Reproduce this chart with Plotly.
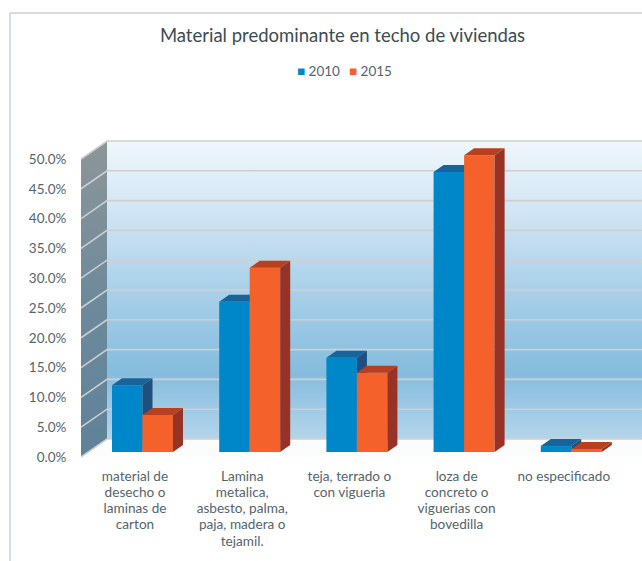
import plotly.graph_objects as go

categories = ["material de<br>desecho o<br>laminas de<br>carton",
              "Lamina<br>metalica,<br>asbesto, palma,<br>paja, madera o<br>tejamil.",
              "teja, terrado o<br>con vigueria",
              "loza de<br>concreto o<br>viguerias con<br>bovedilla",
              "no especificado"]
values_2010 = [11.2, 25.2, 15.8, 47.0, 1.0]
values_2015 = [6.2, 30.9, 13.3, 49.8, 0.5]
y_ticks = [0, 5, 10, 15, 20, 25, 30, 35, 40, 45, 50]
y_tick_labels = ["0.0%", "5.0%", "10.0%", "15.0%", "20.0%", "25.0%", "30.0%", "35.0%", "40.0%", "45.0%", "50.0%"]

W, H = 642, 561
L, T, B = 81, 130, 467
PX_CAT, PX_PCT = 107.2, 5.96
FONT = "Lato, Carlito, sans-serif"
TXT = "#55646c"
C2010, C2015 = "#0087c9", "#f5612a"

# oblique projection, px converted to data units
wall_dx, wall_dy = 26 / PX_CAT, 18 / PX_PCT
bar_dx, bar_dy = 10 / PX_CAT, 7 / PX_PCT
bar_w = 30.5 / PX_CAT


def xr(origin):
    return [(L - origin) / PX_CAT, (W - origin) / PX_CAT]


def yr(origin):
    return [(origin - B) / PX_PCT, (origin - T) / PX_PCT]


x_range, y_range = xr(135), yr(457)
x_left, x_right = x_range
top = max(y_ticks)

fig = go.Figure()


def poly(xs, ys, color=None, grad=None, ax=("x", "y")):
    kw = dict(fillgradient=grad) if grad else dict(fillcolor=color)
    fig.add_trace(go.Scatter(x=xs, y=ys, mode="lines", fill="toself", line=dict(width=0),
                             xaxis=ax[0], yaxis=ax[1], showlegend=False, hoverinfo="skip", **kw))


# floor
poly([x_left, x_left + wall_dx, x_right + 1, x_right + 1], [0, wall_dy, wall_dy, 0], "#fbfcfc")
# back wall
poly([x_left + wall_dx, x_right + 1, x_right + 1, x_left + wall_dx],
     [wall_dy, wall_dy, top + wall_dy, top + wall_dy],
     grad=dict(type="vertical", colorscale=[[0, "#b4d5ea"], [0.1, "#9fcae5"], [0.22, "#85bcdd"],
                                            [0.5, "#a9d0e9"], [0.75, "#cfe4f3"], [1, "#f0f7fc"]]))
# side wall
poly([x_left, x_left + wall_dx, x_left + wall_dx, x_left],
     [0, wall_dy, top + wall_dy, top],
     grad=dict(type="vertical", colorscale=[[0, "#5f8298"], [0.5, "#6d8a9b"], [1, "#8d9699"]]))

# gridlines
gx, gy = [], []
for t in y_ticks:
    gx += [x_right + 1, x_left + wall_dx, x_left, None]
    gy += [t + wall_dy, t + wall_dy, t, None]
fig.add_trace(go.Scatter(x=gx, y=gy, mode="lines", line=dict(color="#cfcfcf", width=1.6),
                         showlegend=False, hoverinfo="skip"))


def series(vals, name, front, side, topc, offset, ax):
    fig.add_trace(go.Bar(x=list(range(len(vals))), y=vals, name=name, width=bar_w, offset=offset,
                         marker=dict(color=front, line=dict(width=0)), xaxis=ax[0], yaxis=ax[1]))
    sx, sy, tx, ty = [], [], [], []
    for i, v in enumerate(vals):
        x0, x1 = i + offset, i + offset + bar_w
        sx += [x1, x1, x1 + bar_dx, x1 + bar_dx, x1, None]
        sy += [0, v, v + bar_dy, bar_dy, 0, None]
        tx += [x0, x1, x1 + bar_dx, x0 + bar_dx, x0, None]
        ty += [v, v, v + bar_dy, v + bar_dy, v, None]
    poly(sx, sy, side, ax=ax)
    poly(tx, ty, topc, ax=ax)


series(values_2010, "2010", C2010, "#1f4f7e", "#17649b", -bar_w, ("x2", "y2"))
series(values_2015, "2015", C2015, "#963226", "#b9401f", 0, ("x3", "y3"))


# Chart frame
def px(x):
    return (x - L) / (W - L)


def py(y):
    return (B - y) / (B - T)


fig.add_shape(type="line", xref="paper", yref="paper", x0=px(10), x1=px(10), y0=py(561), y1=py(13),
              line=dict(color="#c4d3da", width=1.5))
fig.add_shape(type="line", xref="paper", yref="paper", x0=px(10), x1=px(642), y0=py(13), y1=py(13),
              line=dict(color="#c4d3da", width=1.5))

# Compact legend row
for name, color, left in (("2010", C2010, 296), ("2015", C2015, 348)):
    fig.add_annotation(xref="paper", yref="paper", x=px(left), y=py(71), xanchor="left", yanchor="middle",
                       showarrow=False, align="left", borderpad=0,
                       text=f'<span style="color:{color}">■</span> {name}',
                       font=dict(size=13.5, color=TXT, family=FONT))


def tick_text(label):
    return "<br>".join(f'<span style="font-size:13.6px">{line}</span>' for line in label.split("<br>"))


hidden = dict(visible=False, showgrid=False, zeroline=False)
fig.update_layout(
    width=W, height=H, autosize=False, showlegend=False,
    margin=dict(l=L, r=0, t=T, b=H - B, pad=0),
    paper_bgcolor="#ffffff", plot_bgcolor="rgba(0,0,0,0)",
    font=dict(family=FONT, color=TXT),
    title=dict(text="Material predominante en techo de viviendas", x=342.5 / W, xanchor="center",
               y=1 - 35.5 / H, yanchor="middle", font=dict(size=18.5, color="#3c4b52", family=FONT)),
    barmode="overlay",
    xaxis=dict(range=x_range, tickmode="array", tickvals=list(range(len(categories))),
               ticktext=[tick_text(c) for c in categories],
               tickfont=dict(size=12.5, color=TXT, family=FONT), ticks="", showgrid=False,
               zeroline=False, showline=False, tickangle=0),
    yaxis=dict(range=y_range, tickmode="array", tickvals=y_ticks, ticktext=y_tick_labels,
               tickfont=dict(size=13.5, color=TXT, family=FONT), ticks="outside", ticklen=11,
               tickcolor="rgba(0,0,0,0)", showgrid=False, zeroline=False, showline=False),
    xaxis2=dict(range=xr(142.5), overlaying="x", anchor="y2", **hidden),
    yaxis2=dict(range=yr(452), overlaying="y", anchor="x2", **hidden),
    xaxis3=dict(range=xr(142.5), overlaying="x", anchor="y3", **hidden),
    yaxis3=dict(range=yr(452), overlaying="y", anchor="x3", **hidden),
)
fig.write_html("out.html", config={"displayModeBar": False},
               post_script="document.body.style.margin='0';document.body.style.overflow='hidden';")
